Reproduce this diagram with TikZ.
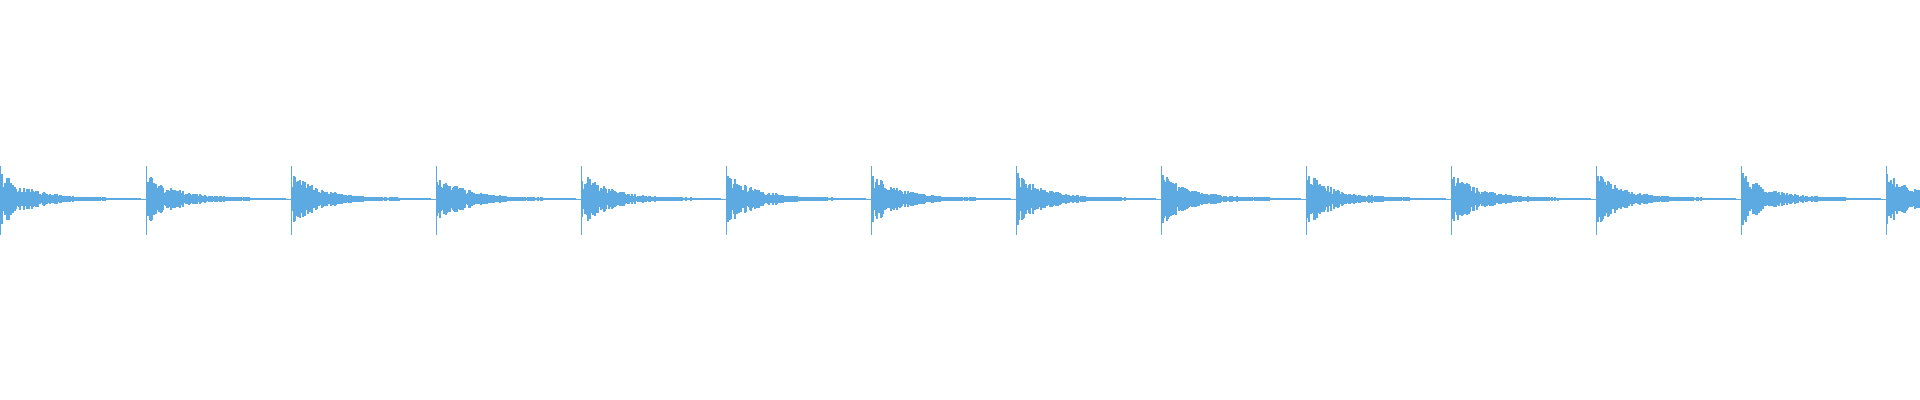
\documentclass[tikz,border=0pt]{standalone}
\definecolor{wave}{HTML}{5DA9E1}
\begin{document}
\begin{tikzpicture}[x=0.05cm,y=-0.05cm]
		\pgfmathsetseed{7}
		\useasboundingbox (0,0) rectangle (1920,400);
		\draw [wave,line width=0.03cm] (0,199)--(1920,199);
		\foreach \s in {0,145,...,1900}{
		\begin{scope}[shift={(\s,199)}]
		% initial spike
		\draw [wave,line width=0.05cm] (1,-33)--(1,36);
		\foreach \t in {2,...,140}{
			\pgfmathsetmacro{\a}{1+28*exp(-\t/28)*(0.35+0.65*rnd)}
			\draw [wave,line width=0.06cm] (\t,-\a)--(\t,\a);
		}
		\end{scope}
		}
		\end{tikzpicture}
\end{document}
